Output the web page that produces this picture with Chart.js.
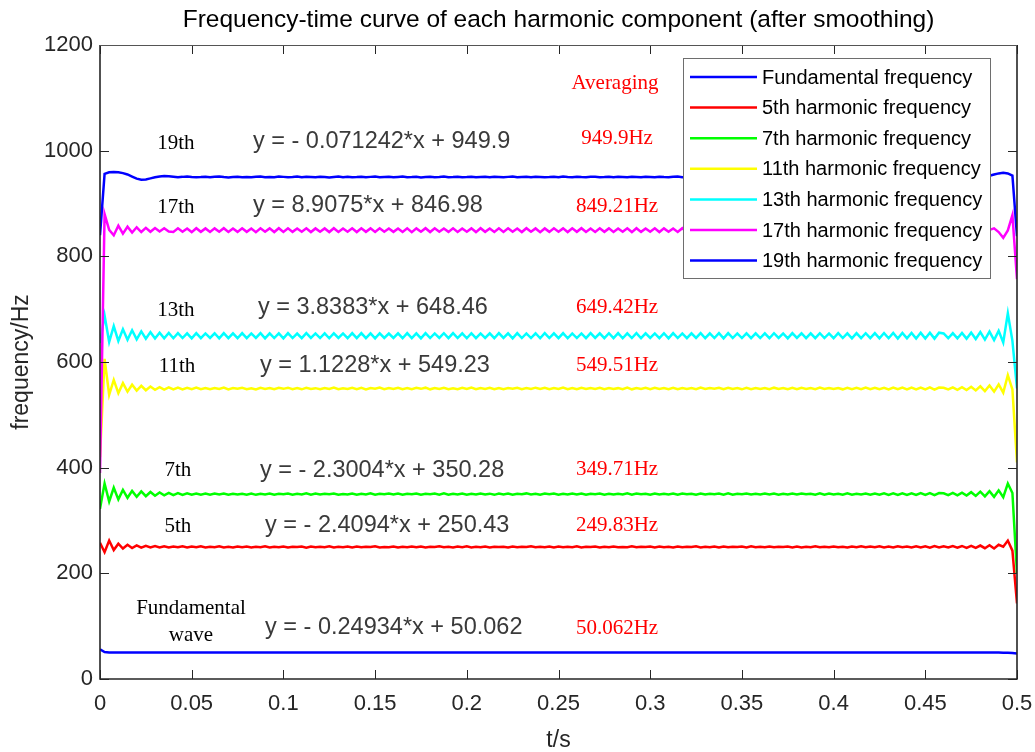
<!DOCTYPE html>
<html>
<head>
<meta charset="utf-8">
<script src="https://cdn.jsdelivr.net/npm/chart.js@4/dist/chart.umd.min.js"></script>
<style>
  html, body { margin: 0; padding: 0; background: #fff; }
  #wrap { width: 1035px; height: 752px; }
</style>
</head>
<body>
<div id="wrap"><canvas id="c" width="1035" height="752"></canvas></div>
<script>
// Sample times (s)
const tSec = [
  0,0.0025,0.005,0.0075,0.01,0.0125,0.015,0.0175,
  0.02,0.0225,0.025,0.0275,0.03,0.0325,0.035,0.0375,
  0.04,0.0425,0.045,0.0475,0.05,0.0525,0.055,0.0575,
  0.06,0.0625,0.065,0.0675,0.07,0.0725,0.075,0.0775,
  0.08,0.0825,0.085,0.0875,0.09,0.0925,0.095,0.0975,
  0.1,0.1025,0.105,0.1075,0.11,0.1125,0.115,0.1175,
  0.12,0.1225,0.125,0.1275,0.13,0.1325,0.135,0.1375,
  0.14,0.1425,0.145,0.1475,0.15,0.1525,0.155,0.1575,
  0.16,0.1625,0.165,0.1675,0.17,0.1725,0.175,0.1775,
  0.18,0.1825,0.185,0.1875,0.19,0.1925,0.195,0.1975,
  0.2,0.2025,0.205,0.2075,0.21,0.2125,0.215,0.2175,
  0.22,0.2225,0.225,0.2275,0.23,0.2325,0.235,0.2375,
  0.24,0.2425,0.245,0.2475,0.25,0.2525,0.255,0.2575,
  0.26,0.2625,0.265,0.2675,0.27,0.2725,0.275,0.2775,
  0.28,0.2825,0.285,0.2875,0.29,0.2925,0.295,0.2975,
  0.3,0.3025,0.305,0.3075,0.31,0.3125,0.315,0.3175,
  0.32,0.3225,0.325,0.3275,0.33,0.3325,0.335,0.3375,
  0.34,0.3425,0.345,0.3475,0.35,0.3525,0.355,0.3575,
  0.36,0.3625,0.365,0.3675,0.37,0.3725,0.375,0.3775,
  0.38,0.3825,0.385,0.3875,0.39,0.3925,0.395,0.3975,
  0.4,0.4025,0.405,0.4075,0.41,0.4125,0.415,0.4175,
  0.42,0.4225,0.425,0.4275,0.43,0.4325,0.435,0.4375,
  0.44,0.4425,0.445,0.4475,0.45,0.4525,0.455,0.4575,
  0.46,0.4625,0.465,0.4675,0.47,0.4725,0.475,0.4775,
  0.48,0.4825,0.485,0.4875,0.49,0.4925,0.495,0.4975,
  0.5
];

// Smoothed frequency of each component (Hz)
const fundamental = [
  56,51,50.2,50.0,50.3,50.1,50.0,50.2,
  50.1,50.0,50.2,50.1,50.0,50.3,50.1,50.0,
  50.2,50.1,50.0,50.1,50.2,50.0,50.1,50.2,
  50.0,50.1,50.2,50.0,50.1,50.3,50.1,50.0,
  50.1,50.2,50.0,50.1,50.0,50.2,50.1,50.1,
  50.0,50.2,50.1,50.0,50.1,50.2,50.0,50.1,
  50.2,50.0,50.1,50.1,50.0,50.2,50.1,50.0,
  50.1,50.0,50.2,50.1,50.1,50.0,50.2,50.1,
  50.0,50.1,50.2,50.0,50.1,50.0,50.1,50.2,
  50.1,50.0,50.1,50.2,50.0,50.1,50.1,50.0,
  50.2,50.1,50.0,50.1,50.2,50.0,50.1,50.1,
  50.0,50.1,50.2,50.1,50.0,50.1,50.2,50.0,
  50.1,50.0,50.1,50.2,50.1,50.0,50.1,50.1,
  50.0,50.2,50.1,50.0,50.1,50.1,50.0,50.2,
  50.1,50.0,50.1,50.1,50.2,50.0,50.1,50.0,
  50.2,50.1,50.0,50.1,50.0,50.1,50.2,50.1,
  50.0,50.1,50.1,50.0,50.2,50.1,50.0,50.1,
  50.1,50.2,50.0,50.1,50.0,50.1,50.1,50.0,
  50.0,50.1,50.2,50.0,50.1,50.0,50.1,50.2,
  50.1,50.0,50.1,50.1,50.0,50.2,50.0,50.1,
  50.0,50.1,50.0,50.2,50.1,50.0,50.1,50.0,
  50.1,50.0,50.1,50.0,50.2,50.1,50.0,50.1,
  50.0,50.1,50.2,50.0,50.1,50.0,50.1,50.0,
  50.1,50.0,50.2,50.1,50.0,50.1,50.2,50.0,
  50.1,50.0,50.1,50.2,50.0,49.9,49.7,49.4,
  48
];

const harmonic5 = [
  258,240,262,244,256,247,254,248,
  253,248.5,252,249,251.5,248.8,251.2,249,
  250.8,249.2,251.0,248.9,250.6,249.4,251.2,249.0,
  250.5,249.3,251.0,249.1,250.2,248.8,250.9,249.5,
  250.7,249.0,250.4,249.6,251.1,248.9,250.3,249.4,
  250.9,249.1,250.2,249.7,250.8,248.7,250.6,249.3,
  250.4,249.5,251.0,249.0,250.1,249.6,250.8,248.9,
  250.6,249.2,250.3,249.8,251.2,249.1,250.0,249.5,
  250.9,248.8,250.5,249.4,250.7,249.3,250.9,249.0,
  250.2,249.7,251.0,249.2,250.4,249.0,250.6,249.6,
  251.0,249.1,250.3,249.5,250.8,248.9,250.2,249.8,
  250.5,249.0,250.9,249.4,250.1,249.7,251.1,249.2,
  250.3,249.6,250.8,248.9,250.6,249.3,250.4,249.5,
  251.1,249.0,250.2,249.7,250.9,249.1,250.5,249.4,
  250.6,249.5,250.0,249.2,251.0,249.4,250.3,249.8,
  250.8,249.1,250.6,249.6,250.2,248.9,250.9,249.3,
  250.1,249.7,251.0,249.1,250.5,249.5,250.7,249.0,
  250.9,249.3,250.3,249.8,250.6,249.0,251.1,249.4,
  250.4,249.6,250.8,249.2,250.2,249.7,250.6,249.1,
  250.7,249.0,250.5,249.5,251.0,249.3,250.3,249.6,
  250.9,249.2,250.4,249.0,250.8,249.6,251.0,249.3,
  250.6,249.4,251.1,249.1,250.7,248.9,251.2,249.2,
  250.9,249.0,251.3,248.9,251.0,248.7,251.4,248.8,
  251.0,248.8,251.4,248.6,251.8,248.3,252.2,248.0,
  252.6,247.6,253.2,247.0,254.0,250.5,262,243,
  143
];

const harmonic7 = [
  322,370,336,362,340,358,343,356,
  345,355,346,354,347,353,347.8,352.4,
  348.2,351.8,348.5,351.5,348.7,351.2,349.0,351.0,
  348.8,350.9,349.2,351.1,348.9,350.7,349.3,350.8,
  349.0,351.2,348.6,350.6,349.4,351.0,348.8,350.5,
  349.5,351.1,348.9,350.4,349.2,351.3,348.7,350.9,
  349.1,350.6,349.6,351.2,348.8,350.3,349.4,351.0,
  348.9,350.8,349.3,351.4,349.0,350.5,349.7,351.1,
  349.2,351.0,348.7,350.7,349.5,351.2,348.9,350.4,
  349.6,350.9,349.0,351.3,348.8,350.6,349.3,351.0,
  349.0,350.5,349.4,351.1,349.2,350.8,348.6,351.2,
  349.4,351.0,348.9,350.6,349.7,351.3,349.1,350.7,
  348.8,350.9,349.5,351.0,349.0,350.4,349.3,351.2,
  349.3,351.1,348.7,350.8,349.6,350.9,349.0,350.6,
  349.1,350.7,349.4,351.3,348.9,351.0,349.5,350.8,
  348.9,351.2,349.2,350.5,349.4,351.1,348.8,350.9,
  349.5,350.8,349.0,351.2,349.1,350.6,349.6,351.0,
  349.0,351.3,348.8,350.7,349.5,351.1,349.2,350.5,
  349.4,350.9,349.1,351.0,348.9,350.8,349.3,351.2,
  349.2,351.1,349.6,350.6,349.0,351.3,348.8,350.9,
  349.3,350.8,349.0,351.4,348.9,350.7,349.4,351.0,
  349.0,351.2,348.7,351.5,348.6,351.3,348.5,351.6,
  348.6,351.4,348.3,351.8,348.4,351.7,348.1,351.9,
  351.5,348.0,352.3,347.6,352.8,347.2,353.6,346.5,
  354.5,345.6,355.5,344.8,357.0,344.0,370,352,
  200
];

const harmonic11 = [
  420,606,538,566,541,560,544,557,
  546,555,546.5,553.5,547.5,552.5,547.8,552,
  548.0,551.6,548.2,551.0,548.6,551.4,548.5,550.8,
  548.3,550.9,549.0,551.5,548.1,550.6,549.2,551.2,
  548.6,550.4,548.2,551.3,549.0,550.8,548.4,551.0,
  549.2,551.4,548.5,550.6,548.3,551.1,549.0,550.5,
  548.4,550.9,549.1,551.6,548.6,550.3,548.9,551.2,
  548.7,551.0,548.2,550.7,549.3,551.5,548.5,550.6,
  549.0,551.3,548.6,550.5,548.4,551.0,549.2,551.4,
  548.3,550.8,549.0,551.2,548.7,550.4,548.5,551.1,
  548.9,551.5,548.4,550.9,549.1,551.0,548.3,550.7,
  548.5,550.6,549.2,551.3,548.6,550.9,548.8,551.4,
  549.1,551.0,548.3,550.6,548.9,551.5,548.6,550.8,
  548.4,551.2,548.8,550.7,549.0,551.1,548.4,550.6,
  548.8,550.5,548.5,551.4,548.3,550.9,549.1,551.2,
  548.6,551.1,549.0,550.8,548.7,551.3,548.4,550.6,
  549.0,550.7,548.4,551.5,548.8,550.6,549.2,551.0,
  548.5,551.3,548.9,550.6,548.3,551.2,548.7,550.9,
  548.9,550.8,548.6,551.4,549.0,550.7,548.4,551.1,
  548.4,551.2,549.1,550.6,548.6,551.5,548.8,550.8,
  548.8,550.9,548.3,551.3,548.7,551.0,548.5,551.4,
  548.5,551.3,548.6,551.0,548.2,551.6,548.4,551.5,
  548.3,551.6,548.1,551.4,548.0,551.8,547.8,551.7,
  551.2,548.0,552.0,547.4,552.4,547.0,553.0,546.2,
  554,545,555.5,544,557.5,542,575,548,
  410
];

const harmonic13 = [
  636,688,638,668,640,662,642,660,
  643,658,644,656.5,644.5,655.5,645,655,
  645.0,654.6,645.4,654.2,644.8,654.5,645.2,654.0,
  645.5,654.4,644.9,654.7,645.3,654.1,645.0,654.5,
  645.2,654.0,645.6,654.6,644.9,654.3,645.4,654.2,
  644.8,654.5,645.3,653.9,645.1,654.6,645.5,654.1,
  645.4,654.2,644.9,654.4,645.6,654.0,645.0,654.6,
  645.1,654.7,645.3,654.1,644.8,654.4,645.5,653.9,
  645.6,654.3,645.0,654.6,645.2,654.2,644.9,654.5,
  645.3,654.0,645.5,654.5,645.1,654.7,645.4,654.1,
  644.9,654.4,645.2,654.0,645.6,654.3,645.0,654.6,
  645.5,654.2,644.8,654.5,645.3,654.1,645.4,654.4,
  645.0,654.6,645.4,654.2,645.1,654.5,644.9,654.0,
  645.4,654.1,645.1,654.6,645.5,654.3,645.2,654.4,
  645.2,654.5,644.9,654.1,645.3,654.6,645.0,654.2,
  645.6,654.0,645.2,654.4,644.8,654.5,645.4,654.1,
  645.1,654.3,645.5,654.6,645.0,654.2,645.3,654.5,
  644.9,654.6,645.3,654.0,645.4,654.4,645.1,654.3,
  645.3,654.2,645.0,654.5,645.6,654.1,644.8,654.6,
  645.5,654.4,645.2,654.2,645.1,654.5,645.4,654.0,
  645.0,654.5,645.4,654.3,644.9,654.6,645.2,654.4,
  645.2,654.7,644.8,654.8,645.0,654.9,644.6,655.1,
  644.7,655.0,644.5,655.2,644.6,655.4,644.3,655.5,
  654.0,645.0,654.6,644.6,655.0,644.2,655.6,643.5,
  656.5,642.5,657.5,641.5,659,637,692,640,
  550
];

const harmonic17 = [
  390,880,850,840,858,843,856,845,
  855,846,854,846.5,853.5,847,853,847,
  846.2,853.0,846.5,852.6,845.9,853.2,846.4,852.8,
  846.0,852.9,846.6,853.3,846.1,852.7,846.3,853.1,
  846.4,852.6,845.8,853.0,846.5,852.9,846.0,853.2,
  846.1,853.1,846.3,852.7,846.6,853.0,845.9,852.8,
  846.5,852.8,846.0,853.3,846.2,852.6,846.4,853.0,
  845.9,853.0,846.4,852.9,846.1,853.2,846.6,852.7,
  846.3,852.7,846.1,853.1,845.8,852.9,846.5,853.3,
  846.0,853.2,846.5,852.8,846.3,853.0,846.1,852.6,
  846.6,852.9,845.9,853.2,846.4,852.7,846.2,853.1,
  846.2,853.0,846.4,852.6,846.0,853.3,846.5,852.8,
  845.8,852.8,846.3,853.1,846.6,852.9,846.0,853.0,
  846.4,853.3,846.1,852.7,846.2,853.0,846.4,852.9,
  846.1,852.6,846.5,853.0,845.9,853.2,846.3,852.8,
  846.5,853.1,846.0,852.9,846.4,852.7,846.1,853.3,
  846.0,852.8,846.6,853.2,846.1,852.9,845.8,853.0,
  846.3,853.0,846.2,852.6,846.5,853.1,846.0,852.9,
  846.2,852.9,845.9,853.3,846.3,852.8,846.4,853.0,
  846.4,853.2,846.1,852.7,846.0,853.0,846.6,852.8,
  846.1,852.9,846.4,853.1,846.2,852.6,846.3,853.2,
  846.3,853.0,846.0,852.8,846.5,853.1,846.2,852.9,
  846.0,853.2,846.4,852.7,846.1,853.3,845.9,853.0,
  853.0,846.0,853.5,845.5,854.0,845.5,853.5,846.0,
  852,847,850,853,846,835,849,878,
  757
];

const harmonic19 = [
  840,956,959,959.5,959,957.5,955,951,
  947,945,945.5,947.5,949.5,951,952,951.5,
  950.6,949.8,950.4,951.2,950.3,949.6,950.1,950.8,
  949.8,950.5,951.2,950.0,949.4,950.1,950.8,949.9,
  950.2,949.5,950.6,951.0,949.8,950.3,949.7,950.9,
  950.4,949.6,950.0,950.9,949.5,950.7,950.2,949.8,
  950.8,950.1,949.4,950.3,951.1,949.9,950.5,949.7,
  950.0,950.7,949.6,950.4,950.9,949.5,950.2,950.6,
  949.7,950.3,951.0,949.8,950.1,950.6,949.4,950.2,
  950.5,949.9,950.3,951.1,949.6,950.0,950.7,949.8,
  950.1,950.6,949.5,950.2,950.8,949.7,950.4,950.0,
  949.6,950.4,950.9,949.8,950.3,950.5,949.9,950.7,
  950.3,949.8,950.1,950.6,949.5,950.9,950.2,949.7,
  950.7,950.0,949.6,950.4,950.8,949.9,950.1,950.5,
  949.9,950.5,950.2,949.7,950.6,950.3,949.5,950.8,
  950.2,949.6,950.7,950.1,949.8,950.4,950.9,949.9,
  950.5,950.0,949.7,950.6,950.2,949.8,950.3,950.7,
  949.8,950.4,950.8,949.6,950.1,950.5,950.0,949.7,
  950.3,950.9,949.9,950.2,950.6,949.7,950.4,950.1,
  950.0,949.6,950.5,950.8,949.9,950.3,950.2,949.8,
  950.6,950.1,949.8,950.4,950.0,950.7,949.6,950.3,
  950.2,950.5,950.0,949.7,950.4,950.9,950.1,949.9,
  949.9,950.3,950.6,950.1,949.8,950.4,950.7,950.2,
  950.0,950.5,950.3,950.8,950.4,950.9,950.6,950.2,
  950.3,951.0,952.5,955,957,958,957,953,
  838
];

const seriesNames = [
  'Fundamental frequency', '5th harmonic frequency', '7th harmonic frequency',
  '11th harmonic frequency', '13th harmonic frequency', '17th harmonic frequency',
  '19th harmonic frequency'
];
const seriesColors = ['#0000ff', '#ff0000', '#00ff00', '#ffff00', '#00ffff', '#ff00ff', '#0000ff'];
const seriesValues = [fundamental, harmonic5, harmonic7, harmonic11, harmonic13, harmonic17, harmonic19];

// Axis ticks
const xTickValues = [0, 0.05, 0.1, 0.15, 0.2, 0.25, 0.3, 0.35, 0.4, 0.45, 0.5];
const xTickLabels = ['0', '0.05', '0.1', '0.15', '0.2', '0.25', '0.3', '0.35', '0.4', '0.45', '0.5'];
const yTickValues = [0, 200, 400, 600, 800, 1000, 1200];
const yTickLabels = ['0', '200', '400', '600', '800', '1000', '1200'];

// Text notes: order names, fitted lines and averages
const orderNames = ['Fundamental', '5th', '7th', '11th', '13th', '17th', '19th'];
const fitLabels = [
  'y = - 0.24934*x + 50.062', 'y = - 2.4094*x + 250.43', 'y = - 2.3004*x + 350.28',
  'y = 1.1228*x + 549.23', 'y = 3.8383*x + 648.46', 'y = 8.9075*x + 846.98',
  'y = - 0.071242*x + 949.9'
];
const averageLabels = ['50.062Hz', '249.83Hz', '349.71Hz', '549.51Hz', '649.42Hz', '849.21Hz', '949.9Hz'];

// Where each note row sits, in axis units (t, Hz)
const orderNamePos = [[0.0496, 134], [0.0425, 289.5], [0.0425, 394], [0.042, 592], [0.0414, 698], [0.0414, 893], [0.0414, 1014]];
const fitLabelPos = [[0.09, 98], [0.09, 291], [0.0872, 395.5], [0.0872, 594], [0.0861, 704], [0.0834, 897], [0.0834, 1018]];
const averagePos = [[0.2819, 96.5], [0.2819, 291], [0.2819, 397], [0.2819, 594], [0.2819, 704], [0.2819, 895], [0.2819, 1024]];

const AXIS_COLOR = '#262626';
const SANS = '"Liberation Sans", Arial, Helvetica, sans-serif';
const SERIF = '"Liberation Serif", "Times New Roman", serif';

const datasets = seriesValues.map((vals, i) => ({
  label: seriesNames[i],
  data: vals.map((v, j) => ({ x: tSec[j], y: v })),
  borderColor: seriesColors[i],
  backgroundColor: seriesColors[i],
  borderWidth: 2.5,
  pointRadius: 0,
  tension: 0,
  fill: false,
  order: -i
}));

const decorations = {
  id: 'decorations',
  afterDatasetsDraw(chart) {
    const { ctx, chartArea: a, scales: { x, y } } = chart;
    ctx.save();

    // inward tick marks on all four sides
    const len = 9;
    ctx.strokeStyle = AXIS_COLOR;
    ctx.lineWidth = 1;
    ctx.beginPath();
    xTickValues.forEach(v => {
      const px = Math.round(x.getPixelForValue(v)) + 0.5;
      ctx.moveTo(px, a.bottom); ctx.lineTo(px, a.bottom - len);
      ctx.moveTo(px, a.top); ctx.lineTo(px, a.top + len);
    });
    yTickValues.forEach(v => {
      const py = Math.round(y.getPixelForValue(v)) + 0.5;
      ctx.moveTo(a.left, py); ctx.lineTo(a.left + len, py);
      ctx.moveTo(a.right, py); ctx.lineTo(a.right - len, py);
    });
    ctx.stroke();

    // axes box
    ctx.lineWidth = 1.6;
    ctx.beginPath();
    ctx.moveTo(a.left, a.top); ctx.lineTo(a.left, a.bottom); ctx.lineTo(a.right, a.bottom); ctx.lineTo(a.right, a.top);
    ctx.stroke();
    ctx.lineWidth = 1;
    ctx.strokeStyle = '#555';
    ctx.beginPath();
    ctx.moveTo(a.left, a.top + 0.5); ctx.lineTo(a.right, a.top + 0.5);
    ctx.stroke();

    // notes
    ctx.textBaseline = 'middle';
    ctx.font = '21px ' + SERIF;
    ctx.fillStyle = '#000';
    ctx.textAlign = 'center';
    orderNames.forEach((s, i) => {
      const px = x.getPixelForValue(orderNamePos[i][0]);
      const py = y.getPixelForValue(orderNamePos[i][1]);
      if (s === 'Fundamental') {
        ctx.fillText('Fundamental', px, py);
        ctx.fillText('wave', px, py + 27);
      } else {
        ctx.fillText(s, px, py);
      }
    });
    ctx.font = '23.5px ' + SANS;
    ctx.fillStyle = '#3a3a3a';
    ctx.textAlign = 'left';
    fitLabels.forEach((s, i) => {
      ctx.fillText(s, x.getPixelForValue(fitLabelPos[i][0]), y.getPixelForValue(fitLabelPos[i][1]));
    });
    ctx.font = '21px ' + SERIF;
    ctx.fillStyle = '#ff0000';
    ctx.textAlign = 'center';
    averageLabels.forEach((s, i) => {
      ctx.fillText(s, x.getPixelForValue(averagePos[i][0]), y.getPixelForValue(averagePos[i][1]));
    });
    ctx.fillText('Averaging', x.getPixelForValue(0.2808), y.getPixelForValue(1128));

    // legend box in the upper right of the plot
    const lx = a.right - 334, ly = a.top + 13, lw = 307, lh = 220;
    ctx.fillStyle = '#fff';
    ctx.fillRect(lx, ly, lw, lh);
    ctx.strokeStyle = '#6e6e6e';
    ctx.lineWidth = 1;
    ctx.strokeRect(lx + 0.5, ly + 0.5, lw, lh);
    ctx.font = '20px ' + SANS;
    ctx.textAlign = 'left';
    chart.data.datasets.forEach((ds, i) => {
      const ry = ly + 19 + i * 30.6;
      ctx.strokeStyle = ds.borderColor;
      ctx.lineWidth = 2.5;
      ctx.beginPath();
      ctx.moveTo(lx + 7, ry); ctx.lineTo(lx + 74, ry);
      ctx.stroke();
      ctx.fillStyle = '#000';
      ctx.fillText(ds.label, lx + 79, ry + 1);
    });

    // title and axis titles
    ctx.fillStyle = '#000';
    ctx.textAlign = 'center';
    ctx.font = '24.5px ' + SANS;
    ctx.fillText('Frequency-time curve of each harmonic component (after smoothing)', (a.left + a.right) / 2, 20);
    ctx.fillStyle = AXIS_COLOR;
    ctx.font = '23px ' + SANS;
    ctx.fillText('t/s', (a.left + a.right) / 2, 741);
    ctx.translate(22, (a.top + a.bottom) / 2);
    ctx.rotate(-Math.PI / 2);
    ctx.fillText('frequency/Hz', 0, 0);
    ctx.restore();
  }
};

new Chart(document.getElementById('c'), {
  type: 'line',
  data: { datasets },
  options: {
    responsive: false,
    animation: false,
    devicePixelRatio: 1,
    layout: { padding: { top: 45, right: 18, left: 0, bottom: 0 } },
    plugins: { legend: { display: false }, tooltip: { enabled: false }, title: { display: false } },
    scales: {
      x: {
        type: 'linear',
        min: 0, max: 0.5,
        afterBuildTicks: s => { s.ticks = xTickValues.map(v => ({ value: v })); },
        afterFit: s => { s.height = 73; s.paddingLeft = 0; s.paddingRight = 0; },
        ticks: {
          autoSkip: false, maxRotation: 0, padding: 12,
          color: AXIS_COLOR, font: { family: SANS, size: 22 },
          callback: (v, i) => xTickLabels[i]
        },
        grid: { display: false, drawTicks: false, tickLength: 0 },
        border: { display: false }
      },
      y: {
        type: 'linear',
        min: 0, max: 1200,
        afterBuildTicks: s => { s.ticks = yTickValues.map(v => ({ value: v })); },
        afterFit: s => { s.width = 100; s.paddingTop = 0; s.paddingBottom = 0; },
        ticks: {
          autoSkip: false, padding: 7,
          color: AXIS_COLOR, font: { family: SANS, size: 22 },
          callback: (v, i) => yTickLabels[i]
        },
        grid: { display: false, drawTicks: false, tickLength: 0 },
        border: { display: false }
      }
    }
  },
  plugins: [decorations]
});
</script>
</body>
</html>
